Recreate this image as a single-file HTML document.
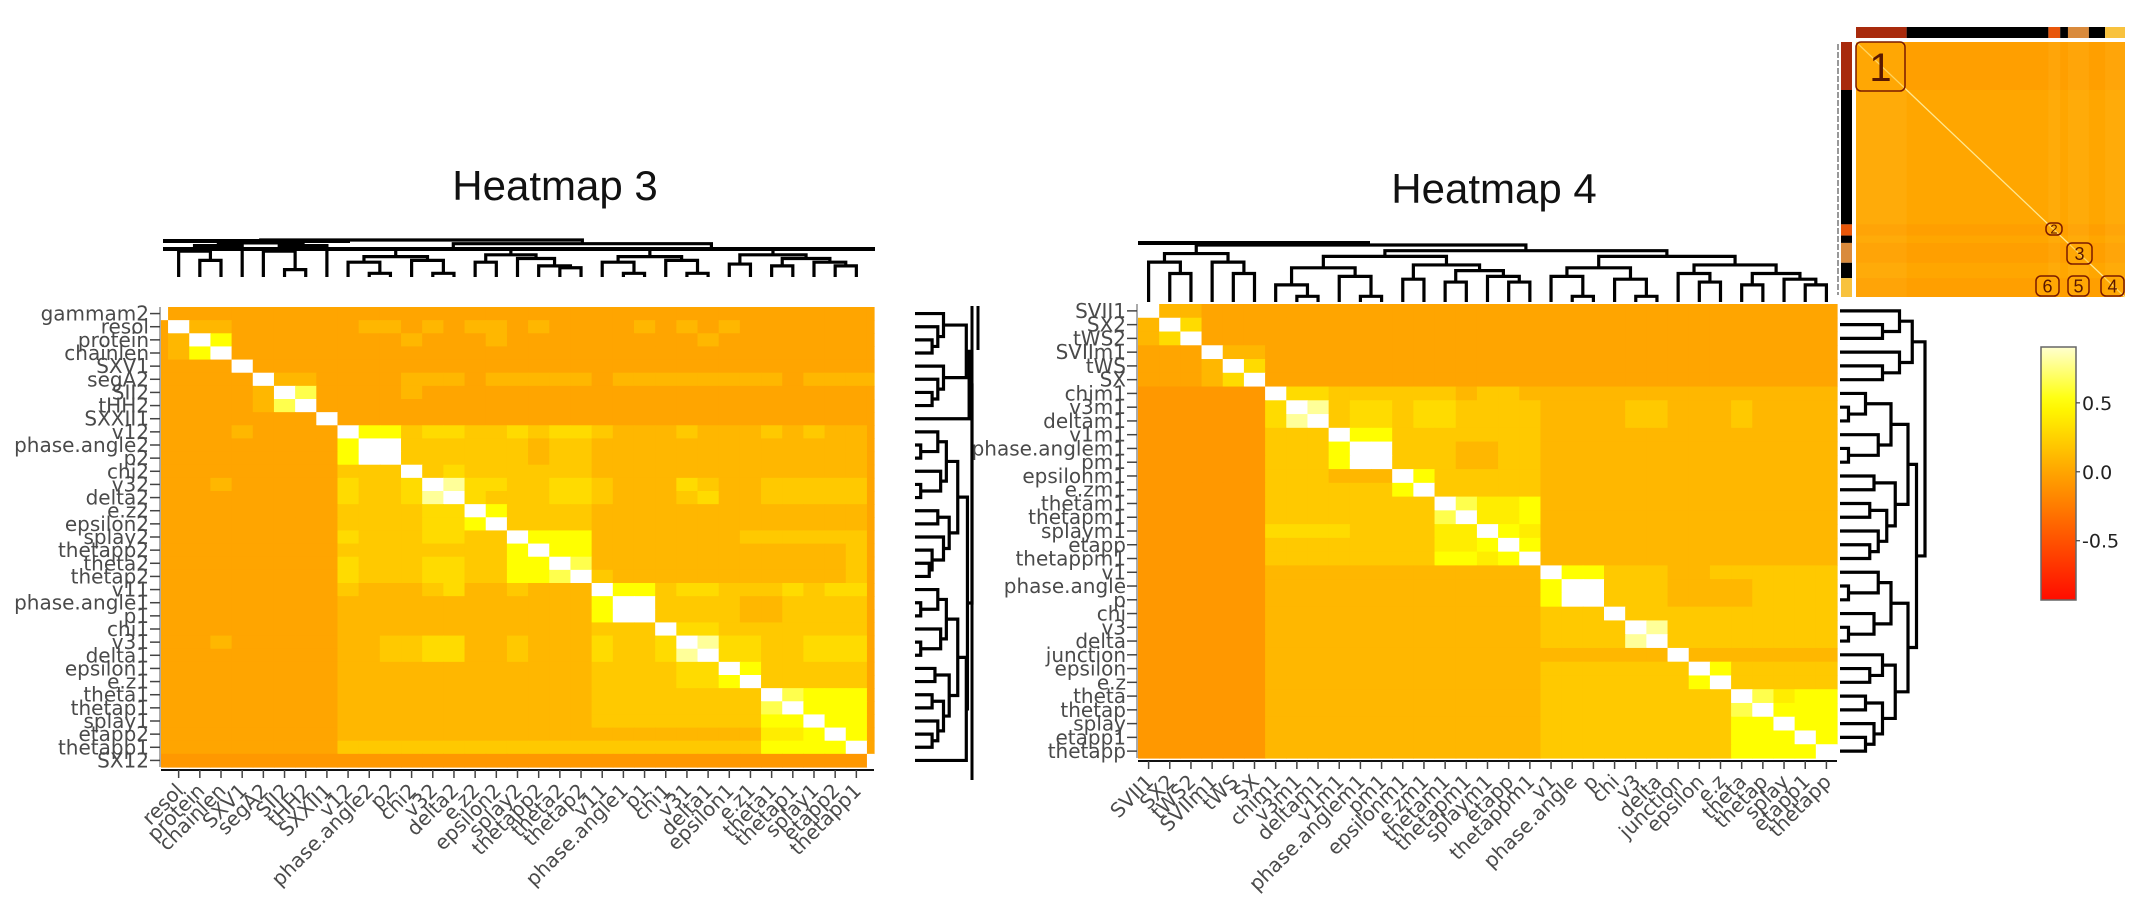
<!DOCTYPE html>
<html><head><meta charset="utf-8"><style>
html,body{margin:0;padding:0;background:#fff;}
svg{display:block;font-family:"Liberation Sans",sans-serif;}
</style></head><body>
<svg id="root" width="2153" height="899" viewBox="0 0 2153 899" xmlns="http://www.w3.org/2000/svg">
<text x="555" y="200" font-size="42" text-anchor="middle" fill="#111">Heatmap 3</text>
<text x="1494" y="203" font-size="42" text-anchor="middle" fill="#111">Heatmap 4</text>
</svg>
<script>
// ---------- DATA ----------
const h3Labels = ["gammam2","resol","protein","chainlen","SXV1","segA2","SII2","tHH2","SXXII1","v12","phase.angle2","p2","chi2","v32","delta2","e.z2","epsilon2","splay2","thetapp2","theta2","thetap2","v11","phase.angle1","p1","chi1","v31","delta1","epsilon1","e.z1","theta1","thetap1","splay1","etapp2","thetapp1","SX12"];
const h3Rows = [
"911111111 111111111111 1111111111111 1",
"192211111 122121221211 1121212111111 1",
"129611111 111211121111 1111121111111 1",
"126911111 111111111111 1111111111111 1",
"111191111 111111111111 1111111111111 1",
"111119221 111222122222 1222222221222 2",
"111112971 111211111111 1111111111111 1",
"111112791 111111111111 1111111111111 1",
"111111119 111111111111 1111111111111 1",
"111121111 966344334344 3222322232322 1",
"111111111 699333333233 2222222222222 1",
"111111111 699333333233 2222222222222 1",
"111111111 333934333333 2222222222222 1",
"111211111 433498443344 3222432233333 1",
"111111111 433489433344 3222342233333 1",
"111111111 333344963333 2222222222222 1",
"111111111 333344693333 2222222222222 1",
"111111111 433344339666 2222222333333 1",
"111111111 333333336966 2222222222223 1",
"111111111 433344336697 2222222222223 1",
"111111111 433344336679 3222222222223 1",
"111111111 322234223222 9663443334344 1",
"111111111 222222222222 6993333223333 1",
"111111111 222222222222 6993333223333 1",
"111111111 222222222222 3339443333333 1",
"111211111 223344223222 4334984433444 1",
"111111111 223344223222 4334894433444 1",
"111111111 222222222222 3333449633333 1",
"111111111 222222222222 3333446933333 1",
"111111111 222222222222 3333333397666 1",
"111111111 222222222222 3333333379666 1",
"111111111 222222222222 3333333366966 1",
"111111111 222222222222 2222222255696 1",
"111111111 333333333333 3333333366669 1",
"000000000 000000000000 0000000000000 9"];
const h4Labels = ["SVII1","SX2","tWS2","SVIIm1","tWS","SX","chim1","v3m1","deltam1","v1m1","phase.anglem1","pm1","epsilonm1","e.zm1","thetam1","thetapm1","splaym1","etapp","thetappm1","v1","phase.angle","p","chi","v3","delta","junction","epsilon","e.z","theta","thetap","splay","etapp1","thetapp"];
const h4Rows = [
"922111 1111111111111 11111111111111",
"294111 1111111111111 11111111111111",
"249111 1111111111111 11111111111111",
"111922 1111111111111 11111111111111",
"111294 1111111111111 11111111111111",
"111249 1111111111111 11111111111111",
"000000 9443333332332 22222222222222",
"000000 4983443443333 22223322232222",
"000000 4893443443333 22223322232222",
"000000 3339663333333 22222222222222",
"000000 3336993332233 22222222222222",
"000000 3336993332233 22222222222222",
"000000 3332229633333 22222222222222",
"000000 3333336933333 22222222222222",
"000000 3333333397556 22222222222222",
"000000 3333333379556 22222222222222",
"000000 4444333355965 22222222222222",
"000000 3333333355696 22222222222222",
"000000 3333333366569 22222222222222",
"000000 2222222222222 96633322333333",
"000000 2222222222222 69933322223333",
"000000 2222222222222 69933322223333",
"000000 2222222222222 33393333333333",
"000000 2222222222222 33339833333333",
"000000 2222222222222 33338933333333",
"000000 2222222222222 22222292222222",
"000000 2222222222222 33333339633333",
"000000 2222222222222 33333336933333",
"000000 2222222222222 33333333397566",
"000000 2222222222222 33333333379666",
"000000 2222222222222 33333333366966",
"000000 2222222222222 33333333366696",
"000000 2222222222222 33333333366669"];
const levelValues = [-0.08,0,0.1,0.2,0.3,0.4,0.5,0.65,0.8,1.0];
const colorbarTicks = [0.5,0.0,-0.5];
const colorbarRange = [-0.93,0.905];
const h3ColTree = [1.0,[0.92,[0.85,[0.7,1,[0.45,2,3]],4],[0.85,[0.7,5,[0.2,6,7]],8]],[0.9,
 [0.75,[0.55,[0.4,9,[0.1,10,11]],[0.45,12,[0.1,13,14]]],[0.6,[0.4,15,16],[0.5,17,[0.3,18,[0.25,19,20]]]]],
 [0.75,[0.55,[0.4,21,[0.1,22,23]],[0.45,24,[0.1,25,26]]],[0.6,[0.35,27,28],[0.5,[0.3,29,30],[0.4,31,[0.3,32,33]]]]]]];
const h3RowTree = [1.0,[0.95,[0.9,[0.5,0,[0.4,1,[0.3,2,3]]],[0.5,4,[0.4,5,[0.3,6,7]]]],8],[0.92,
 [0.75,[0.55,[0.4,9,[0.1,10,11]],[0.45,12,[0.1,13,14]]],[0.6,[0.4,15,16],[0.5,17,[0.3,18,[0.25,19,20]]]]],
 [0.9,[0.75,[0.55,[0.4,21,[0.1,22,23]],[0.45,24,[0.1,25,26]]],[0.6,[0.35,27,28],[0.5,[0.3,29,30],[0.4,31,[0.3,32,33]]]]],34]]];
const h4Tree = [1.0,[0.85,[0.7,0,[0.5,1,2]],[0.7,3,[0.5,4,5]]],[0.9,
 [0.8,[0.6,[0.3,6,[0.1,7,8]],[0.45,9,[0.1,10,11]]],[0.65,[0.4,12,13],[0.55,[0.35,14,15],[0.45,16,[0.35,17,18]]]]],
 [0.8,[0.6,[0.45,19,[0.1,20,21]],[0.4,22,[0.1,23,24]]],[0.65,[0.5,25,[0.35,26,27]],[0.5,[0.3,28,29],[0.4,30,[0.3,31,32]]]]]]];
const insetGroupColors = ["#a82a0c","#000000","#e8560a","#000000","#d98a3c","#000000","#f8c23e"];
const insetGroupSizes = [150,420,35,23,62,48,59];
const insetBoxLabels = ["1","2","3","4","5","6"];

// ---------- helpers ----------
const NS="http://www.w3.org/2000/svg";
const svg=document.getElementById('root');
const LABEL_FONT='"DejaVu Sans","Liberation Sans",sans-serif';
function mk(tag,attrs,parent){const e=document.createElementNS(NS,tag);for(const k in attrs)e.setAttribute(k,attrs[k]);(parent||svg).appendChild(e);return e;}
function colour(v){
  let r=255,g,b=0;
  if(v<0){g=Math.max(0,165*(1+v));}
  else if(v<=0.5){g=165+180*v;}
  else{g=255;b=Math.min(255,(v-0.5)*2*255);}
  return `rgb(${r},${Math.round(g)},${Math.round(b)})`;
}
function parseRows(rows){return rows.map(r=>r.replace(/ /g,'').split('').map(c=>levelValues[+c]));}

function drawTree(tree,leafPos,hPos,orient,g,name){
  function rec(n){
    if(typeof n==='number')return {p:leafPos(n),h:0};
    const A=rec(n[1]),B=rec(n[2]);const h=n[0];
    let d;
    if(orient==='top') d=`M${A.p},${hPos(A.h)}V${hPos(h)}H${B.p}V${hPos(B.h)}`;
    else d=`M${hPos(A.h)},${A.p}H${hPos(h)}V${B.p}H${hPos(B.h)}`;
    const p=mk('path',{d:d,fill:'none',stroke:'#000','stroke-width':3.2},g);
    
    
    return {p:(A.p+B.p)/2,h:h};
  }
  rec(tree);
}

function drawHeatmap(cfg){
  const vals=parseRows(cfg.rows);
  const n=cfg.labels.length;
  const g=mk('g',{});
  
  
  const colEdges=[];
  if(cfg.narrowEdges){
    const w=(cfg.x1-cfg.x0)/(n-2+2/3);
    colEdges.push(cfg.x0);colEdges.push(cfg.x0+w/3);
    for(let i=1;i<n-1;i++)colEdges.push(colEdges[colEdges.length-1]+w);
    colEdges.push(cfg.x1);
  } else {
    for(let i=0;i<=n;i++)colEdges.push(cfg.x0+(cfg.x1-cfg.x0)*i/n);
  }
  const rh=(cfg.y1-cfg.y0)/n;
  const yAt=i=>cfg.y0+rh*i;
  for(let i=0;i<n;i++){
    for(let j=0;j<n;j++){
      const v=(vals[i]&&vals[i][j]!==undefined)?vals[i][j]:0;
      const c=mk('rect',{x:colEdges[j],y:yAt(i),width:colEdges[j+1]-colEdges[j]+0.6,height:rh+0.6,fill:colour(v)},g);
      
      
    }
  }
  const ya=mk('g',{'font-family':LABEL_FONT});
  
  
  mk('line',{x1:cfg.x0-1,x2:cfg.x0-1,y1:cfg.y0,y2:cfg.y1,stroke:'#555','stroke-width':1},ya);
  for(let i=0;i<n;i++){
    const y=yAt(i)+rh/2;
    mk('line',{x1:cfg.x0-11,x2:cfg.x0-1,y1:y,y2:y,stroke:'#444','stroke-width':1.5},ya);
    const t=mk('text',{x:cfg.x0-12,y:y+7,'font-size':cfg.fs,'text-anchor':'end',fill:'#4a4a4a'},ya);
    t.textContent=cfg.labels[i];
    
    
  }
  const xa=mk('g',{'font-family':LABEL_FONT});
  
  
  const by=cfg.y1+3;
  mk('line',{x1:cfg.x0,x2:cfg.x1,y1:by,y2:by,stroke:'#111','stroke-width':2},xa);
  const first=cfg.narrowEdges?1:0,last=cfg.narrowEdges?n-1:n;
  for(let j=first;j<last;j++){
    const x=(colEdges[j]+colEdges[j+1])/2;
    mk('line',{x1:x,x2:x,y1:by,y2:by+8,stroke:'#444','stroke-width':1.5},xa);
    const t=mk('text',{x:x+6,y:by+22,'font-size':cfg.fs,'text-anchor':'end',fill:'#4a4a4a',transform:`rotate(-45 ${x+6} ${by+22})`},xa);
    t.textContent=cfg.labels[j];
    
    
  }
  return {colEdges,yAt,rh};
}

// ---------- Heatmap 3 ----------
const H3={x0:161,x1:874,y0:307,y1:767};
const g3=drawHeatmap({name:'heatmap-3',labels:h3Labels,rows:h3Rows,x0:H3.x0,x1:H3.x1,y0:H3.y0,y1:H3.y1,narrowEdges:true,fs:20});
const d3c=mk('g',{});


drawTree(h3ColTree,i=>(g3.colEdges[i]+g3.colEdges[i+1])/2,h=>277-(277-240)*h,'top',d3c,'h3-col-dendro');
mk('path',{d:'M163,241H350M163,249H875',stroke:'#000','stroke-width':4,fill:'none'},d3c);
const d3r=mk('g',{});


drawTree(h3RowTree,i=>g3.yAt(i)+g3.rh/2,h=>915+(972-915)*h,'right',d3r,'h3-row-dendro');
mk('path',{d:'M972,306V780M978,306V350',stroke:'#000','stroke-width':3,fill:'none'},d3r);

// ---------- Heatmap 4 ----------
const H4={x0:1138,x1:1837,y0:304,y1:758};
const g4=drawHeatmap({name:'heatmap-4',labels:h4Labels,rows:h4Rows,x0:H4.x0,x1:H4.x1,y0:H4.y0,y1:H4.y1,narrowEdges:false,fs:20});
const d4c=mk('g',{});


drawTree(h4Tree,i=>(g4.colEdges[i]+g4.colEdges[i+1])/2,h=>302-(302-245)*h,'top',d4c,'h4-col-dendro');
mk('path',{d:'M1138,243H1370',stroke:'#000','stroke-width':4,fill:'none'},d4c);
const d4r=mk('g',{});


drawTree(h4Tree,i=>g4.yAt(i)+g4.rh/2,h=>1840+(1925-1840)*h,'right',d4r,'h4-row-dendro');

// ---------- Inset overview ----------
const IN={x0:1856,x1:2125,y0:42,y1:297};
const ig=mk('g',{});


const im=mk('rect',{x:IN.x0,y:IN.y0,width:IN.x1-IN.x0,height:IN.y1-IN.y0,fill:'#ffa600'},ig);


const tot=insetGroupSizes.reduce((a,b)=>a+b,0);
let acc=0;
for(let k=0;k<insetGroupSizes.length;k++){
  const fx=IN.x0+(IN.x1-IN.x0)*acc/tot, fw=(IN.x1-IN.x0)*insetGroupSizes[k]/tot;
  const fy=IN.y0+(IN.y1-IN.y0)*acc/tot, fh=(IN.y1-IN.y0)*insetGroupSizes[k]/tot;
  const tb=mk('rect',{x:fx,y:27,width:fw,height:11,fill:insetGroupColors[k]},ig);
  
  
  const lb=mk('rect',{x:1841,y:fy,width:11,height:fh,fill:insetGroupColors[k]},ig);
  
  
  if(insetGroupColors[k]!=='#000000'){
    const s1=mk('rect',{x:fx,y:IN.y0,width:fw,height:IN.y1-IN.y0,fill:'#ffc030',opacity:0.18},ig);
    
    
    const s2=mk('rect',{x:IN.x0,y:fy,width:IN.x1-IN.x0,height:fh,fill:'#ff7000',opacity:0.12},ig);
    
    
  }
  acc+=insetGroupSizes[k];
}
mk('line',{x1:IN.x0,y1:IN.y0,x2:IN.x1,y2:IN.y1,stroke:'#ffe890','stroke-width':1.3},ig);
mk('line',{x1:1838,y1:44,x2:1838,y2:295,stroke:'#333','stroke-width':1,'stroke-dasharray':'6 2'},ig);
const boxes=[[1856,42,49,49,40],[2046,223,16,12,13],[2067,243,25,21,18],[2101,276,23,20,18],[2068,276,21,20,18],[2036,276,23,20,18]];
boxes.forEach((b,k)=>{
  const r=mk('rect',{x:b[0],y:b[1],width:b[2],height:b[3],rx:5,fill:'#ffb000','fill-opacity':0.35,stroke:'#7a1a00','stroke-width':1.5},ig);
  
  
  const t=mk('text',{x:b[0]+b[2]/2,y:b[1]+b[3]/2+b[4]*0.36,'font-size':b[4],'text-anchor':'middle',fill:'#5a1800'},ig);
  t.textContent=insetBoxLabels[k];
  
  
});

// ---------- Colorbar ----------
const CB={x:2041,y0:347,y1:600,w:35};
const cg=mk('g',{});


const defs=mk('defs',{},cg);
const lg=mk('linearGradient',{id:'cbg',x1:0,y1:1,x2:0,y2:0},defs);
for(let k=0;k<=20;k++){
  const v=colorbarRange[0]+(colorbarRange[1]-colorbarRange[0])*k/20;
  mk('stop',{offset:(k/20),'stop-color':colour(v)},lg);
}
const cbr=mk('rect',{x:CB.x,y:CB.y0,width:CB.w,height:CB.y1-CB.y0,fill:'url(#cbg)',stroke:'#666','stroke-width':1.5},cg);


const cbY=v=>CB.y1-(v-colorbarRange[0])/(colorbarRange[1]-colorbarRange[0])*(CB.y1-CB.y0);
colorbarTicks.forEach(v=>{
  const y=cbY(v);
  mk('line',{x1:CB.x+CB.w,x2:CB.x+CB.w+4,y1:y,y2:y,stroke:'#444','stroke-width':1.2},cg);
  const t=mk('text',{x:CB.x+CB.w+6,y:y+7,'font-size':19,fill:'#222','font-family':LABEL_FONT},cg);
  t.textContent=v.toFixed(1);
  
  
});
</script>
</body></html>
